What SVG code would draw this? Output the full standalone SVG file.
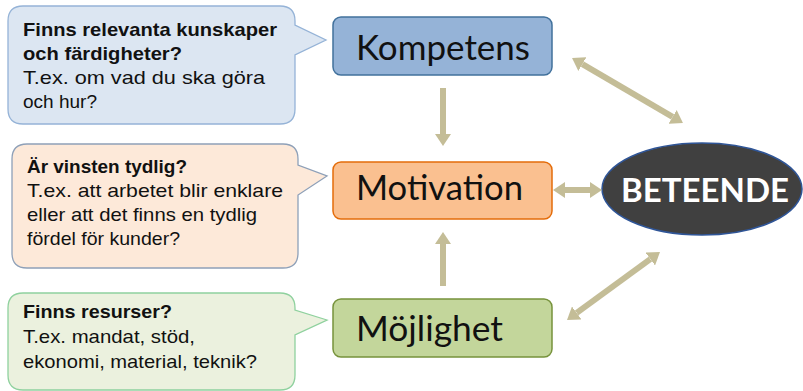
<svg xmlns="http://www.w3.org/2000/svg" width="803" height="391" viewBox="0 0 803 391">
<style>
.ct{font-family:"Liberation Sans",Arial,sans-serif;font-size:18.5px;fill:#111}
.ct .b{font-weight:bold}
.bx{font-family:Lato,"Open Sans",sans-serif;font-size:35px;fill:#111}
.arr{stroke:#c4bd97;stroke-width:6;fill:none}
</style>
<defs>
<marker id="ah" markerUnits="userSpaceOnUse" markerWidth="12" markerHeight="16" refX="0" refY="8" orient="auto-start-reverse" viewBox="0 0 12 16">
<path d="M0,0 L12,8 L0,16 z" fill="#c4bd97"/>
</marker>
</defs>
<rect width="803" height="391" fill="#fff"/>

<g id="callout-kompetens">
<path d="M23,6 H280 Q295,6 295,21 V25 L326,40 L295,55 V109 Q295,124 280,124 H23 Q8,124 8,109 V21 Q8,6 23,6 Z" fill="#dce6f2" stroke="#95b3d7" stroke-width="1.3"/>
<text class="ct"><tspan class="b" x="23" y="36" textLength="254" lengthAdjust="spacingAndGlyphs">Finns relevanta kunskaper</tspan><tspan class="b" x="23" y="60" textLength="159" lengthAdjust="spacingAndGlyphs">och färdigheter?</tspan><tspan x="23" y="84" textLength="242" lengthAdjust="spacingAndGlyphs">T.ex. om vad du ska göra</tspan><tspan x="23" y="108" textLength="74" lengthAdjust="spacingAndGlyphs">och hur?</tspan></text>
</g>

<g id="callout-motivation">
<path d="M27,144 H283 Q298,144 298,159 V165 L327,176 L298,195 V253 Q298,268 283,268 H27 Q12,268 12,253 V159 Q12,144 27,144 Z" fill="#fde9d9" stroke="#8ea0b8" stroke-width="1.3"/>
<text class="ct"><tspan class="b" x="27" y="173" textLength="160" lengthAdjust="spacingAndGlyphs">Är vinsten tydlig?</tspan><tspan x="27" y="197" textLength="256" lengthAdjust="spacingAndGlyphs">T.ex. att arbetet blir enklare</tspan><tspan x="27" y="221" textLength="230" lengthAdjust="spacingAndGlyphs">eller att det finns en tydlig</tspan><tspan x="27" y="245" textLength="153" lengthAdjust="spacingAndGlyphs">fördel för kunder?</tspan></text>
</g>

<g id="callout-mojlighet">
<path d="M23,293 H280 Q295,293 295,308 V310 L327,320 L295,335 V375 Q295,390 280,390 H23 Q8,390 8,375 V308 Q8,293 23,293 Z" fill="#ebf1de" stroke="#8fd19e" stroke-width="1.3"/>
<text class="ct"><tspan class="b" x="23" y="318" textLength="149" lengthAdjust="spacingAndGlyphs">Finns resurser?</tspan><tspan x="23" y="343" textLength="172" lengthAdjust="spacingAndGlyphs">T.ex. mandat, stöd,</tspan><tspan x="23" y="368" textLength="234" lengthAdjust="spacingAndGlyphs">ekonomi, material, teknik?</tspan></text>
</g>

<g id="kompetens">
<rect x="333" y="17" width="219" height="58" rx="8" fill="#95b3d7" stroke="#41719c" stroke-width="1.5"/>
<text class="bx" x="356" y="60" textLength="174" lengthAdjust="spacingAndGlyphs">Kompetens</text>
</g>

<g id="motivation">
<rect x="333" y="162" width="219" height="57" rx="8" fill="#fac090" stroke="#e46c0a" stroke-width="1.5"/>
<text class="bx" x="356" y="200" textLength="167" lengthAdjust="spacingAndGlyphs">Motivation</text>
</g>

<g id="mojlighet">
<rect x="333" y="299" width="219" height="58" rx="8" fill="#c3d69b" stroke="#77933c" stroke-width="1.5"/>
<text class="bx" x="356" y="341" textLength="147" lengthAdjust="spacingAndGlyphs">Möjlighet</text>
</g>

<g id="beteende">
<ellipse cx="702" cy="189" rx="100" ry="46" fill="#404040" stroke="#2f5597" stroke-width="1.5"/>
<text x="705" y="202" text-anchor="middle" font-family="Lato,'Open Sans',sans-serif" font-weight="bold" font-size="33" fill="#fff">BETEENDE</text>
</g>

<g id="connectors">
<line class="arr" x1="443" y1="88" x2="443" y2="134" marker-end="url(#ah)"/>
<line class="arr" x1="443" y1="286" x2="443" y2="244" marker-end="url(#ah)"/>
<line class="arr" x1="565" y1="190" x2="590" y2="190" marker-start="url(#ah)" marker-end="url(#ah)"/>
<line class="arr" x1="582.4" y1="64.1" x2="672.6" y2="116.9" marker-start="url(#ah)" marker-end="url(#ah)"/>
<line class="arr" x1="576.7" y1="312.9" x2="650.3" y2="259.1" marker-start="url(#ah)" marker-end="url(#ah)"/>
</g>
</svg>
